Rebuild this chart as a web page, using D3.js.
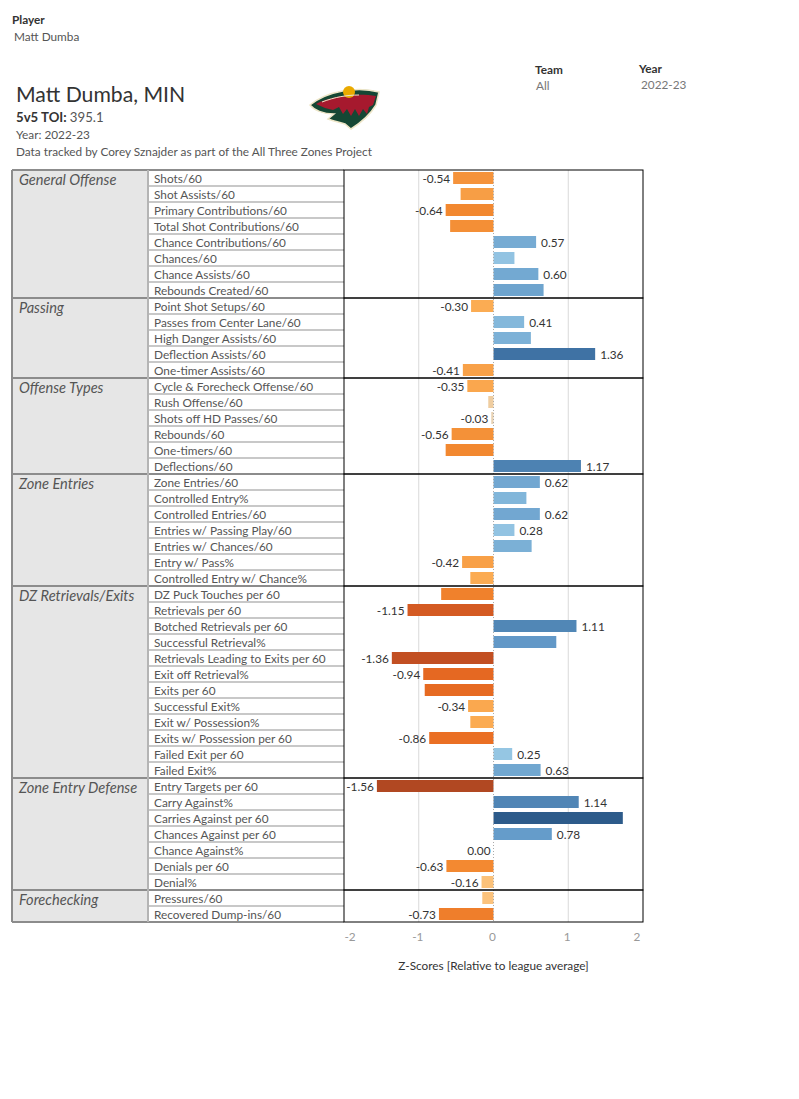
<!DOCTYPE html>
<html>
<head>
<meta charset="utf-8">
<script src="https://cdn.jsdelivr.net/npm/d3@7"></script>
<style>
  body { margin: 0; background: #fff; }
  text { font-family: Lato, "Open Sans", sans-serif; }
</style>
</head>
<body>
<div id="chart"></div>
<script>
// sections and their metrics
var groups = ["General Offense", "Passing", "Offense Types", "Zone Entries", "DZ Retrievals/Exits", "Zone Entry Defense", "Forechecking"]
var groupMetrics = [
  ["Shots/60", "Shot Assists/60", "Primary Contributions/60", "Total Shot Contributions/60", "Chance Contributions/60", "Chances/60", "Chance Assists/60", "Rebounds Created/60"],
  ["Point Shot Setups/60", "Passes from Center Lane/60", "High Danger Assists/60", "Deflection Assists/60", "One-timer Assists/60"],
  ["Cycle & Forecheck Offense/60", "Rush Offense/60", "Shots off HD Passes/60", "Rebounds/60", "One-timers/60", "Deflections/60"],
  ["Zone Entries/60", "Controlled Entry%", "Controlled Entries/60", "Entries w/ Passing Play/60", "Entries w/ Chances/60", "Entry w/ Pass%", "Controlled Entry w/ Chance%"],
  ["DZ Puck Touches per 60", "Retrievals per 60", "Botched Retrievals per 60", "Successful Retrieval%", "Retrievals Leading to Exits per 60", "Exit off Retrieval%", "Exits per 60", "Successful Exit%", "Exit w/ Possession%", "Exits w/ Possession per 60", "Failed Exit per 60", "Failed Exit%"],
  ["Entry Targets per 60", "Carry Against%", "Carries Against per 60", "Chances Against per 60", "Chance Against%", "Denials per 60", "Denial%"],
  ["Pressures/60", "Recovered Dump-ins/60"]
]
// z-scores, same order as metrics
var zScores = [
  [-0.54, -0.44, -0.64, -0.58, 0.57, 0.28, 0.60, 0.67],
  [-0.30, 0.41, 0.50, 1.36, -0.41],
  [-0.35, -0.07, -0.03, -0.56, -0.64, 1.17],
  [0.62, 0.44, 0.62, 0.28, 0.51, -0.42, -0.31],
  [-0.70, -1.15, 1.11, 0.84, -1.36, -0.94, -0.92, -0.34, -0.31, -0.86, 0.25, 0.63],
  [-1.56, 1.14, 1.73, 0.78, 0.00, -0.63, -0.16],
  [-0.15, -0.73]
]
// which bars carry a value label (1 = shown)
var showLabel = [
  [1, 0, 1, 0, 1, 0, 1, 0],
  [1, 1, 0, 1, 1],
  [1, 0, 1, 1, 0, 1],
  [1, 0, 1, 1, 0, 1, 0],
  [0, 1, 1, 0, 1, 1, 0, 1, 0, 1, 1, 1],
  [1, 1, 0, 1, 1, 1, 1],
  [0, 1]
]
var xTicks = [-2, -1, 0, 1, 2]

// flatten into rows
var rows = []
groups.forEach(function(g, gi) {
  groupMetrics[gi].forEach(function(m, mi) {
    rows.push({ group: g, metric: m, value: zScores[gi][mi], label: showLabel[gi][mi] })
  })
})

var W = 799, H = 1099
var tableTop = 170, rowH = 16
var colGroupX = 12, colMetricX = 148, panelX = 344, panelR = 643
var small = "11.8px"

var svg = d3.select("#chart").append("svg")
  .attr("width", W).attr("height", H)

// ---------- header ----------
svg.append("text").attr("x", 12).attr("y", 24).text("Player")
  .style("font-size", small).style("font-weight", "bold").style("fill", "#333")
svg.append("text").attr("x", 14).attr("y", 41).text("Matt Dumba")
  .style("font-size", small).style("fill", "#555")

svg.append("text").attr("x", 535).attr("y", 74).text("Team")
  .style("font-size", small).style("font-weight", "bold").style("fill", "#333")
svg.append("text").attr("x", 536).attr("y", 90).text("All")
  .style("font-size", small).style("fill", "#777")
svg.append("text").attr("x", 639).attr("y", 73).text("Year")
  .style("font-size", small).style("font-weight", "bold").style("fill", "#333")
svg.append("text").attr("x", 641).attr("y", 89).text("2022-23")
  .style("font-size", small).style("fill", "#777")

svg.append("text").attr("x", 16).attr("y", 102).text("Matt Dumba, MIN")
  .style("font-size", "21.2px").style("fill", "#333")
var toi = svg.append("text").attr("x", 16).attr("y", 122)
  .style("font-size", "13.2px").style("fill", "#333")
toi.append("tspan").text("5v5 TOI: ").style("font-weight", "bold")
toi.append("tspan").text("395.1").style("fill", "#555")
svg.append("text").attr("x", 16).attr("y", 139).text("Year: 2022-23")
  .style("font-size", small).style("fill", "#555")
svg.append("text").attr("x", 16).attr("y", 156).text("Data tracked by Corey Sznajder as part of the All Three Zones Project")
  .style("font-size", small).style("fill", "#555")

// ---------- logo (rough Wild crest) ----------
var logo = svg.append("g").attr("transform", "translate(309,83)")
logo.append("path")
  .attr("d", "M1,22 C18,8 48,3 70,9 L67,22 C61,32 53,39 42,46 L36,41 C30,39 24,38 19,36 L25,31 C14,31 5,27 1,22 Z")
  .style("fill", "#154734").style("stroke", "#eee6c8").style("stroke-width", 1.5)
logo.append("path")
  .attr("d", "M7,21 C22,13 48,10 67,13 L64,22 L60,24 L58,31 L54,26 L50,33 L46,26 L42,33 L38,26 L34,31 L30,24 L24,27 L16,25 Z")
  .style("fill", "#a6192e")
logo.append("circle").attr("cx", 40).attr("cy", 9).attr("r", 6).style("fill", "#eaaa00")
logo.append("path").attr("d", "M13,19 C26,14 38,12 50,12").style("fill", "none")
  .style("stroke", "#eee6c8").style("stroke-width", 1)

// ---------- scales ----------
var x = d3.scaleLinear().domain([-2, 2]).range([panelX, panelR])
var yTop = function(i) { return tableTop + i * rowH }

var color = d3.scaleLinear()
  .domain([-1.6, -1.36, -1.15, -0.9, -0.65, -0.45, -0.3, -0.15, -0.03, 0, 0.25, 0.45, 0.65, 0.8, 1.15, 1.36, 1.75])
  .range(["#ad4722", "#c24f22", "#d45a22", "#e86b22", "#f2872f", "#f79d44", "#fbac53", "#fbc27c", "#e9d2b2",
          "#d8d8d8", "#95c6e3", "#80b5d9", "#6fa5cf", "#649bc9", "#4f84b4", "#3f72a4", "#2c5a89"])
  .clamp(true)

// ---------- table ----------
var sections = []
var start = 0
groups.forEach(function(g, gi) {
  sections.push({ name: g, start: start, n: groupMetrics[gi].length })
  start += groupMetrics[gi].length
})
var tableBottom = yTop(rows.length)

// group column background
svg.append("rect").attr("x", colGroupX).attr("y", tableTop)
  .attr("width", colMetricX - colGroupX).attr("height", tableBottom - tableTop)
  .style("fill", "#e6e6e6")

// metric row separators
svg.selectAll(".rowline")
  .data(rows)
  .enter().append("line")
  .attr("x1", colMetricX).attr("x2", panelX)
  .attr("y1", function(d, i) { return yTop(i + 1) })
  .attr("y2", function(d, i) { return yTop(i + 1) })
  .style("stroke", "#c8c8c8").style("stroke-width", 2)

// metric labels
svg.selectAll(".metric")
  .data(rows)
  .enter().append("text")
  .attr("x", colMetricX + 6)
  .attr("y", function(d, i) { return yTop(i) + 12.5 })
  .text(function(d) { return d.metric })
  .style("font-size", small).style("fill", "#555")

// section separators and group names
svg.selectAll(".secline")
  .data(sections)
  .enter().append("line")
  .attr("x1", colGroupX).attr("x2", panelX)
  .attr("y1", function(d) { return yTop(d.start) })
  .attr("y2", function(d) { return yTop(d.start) })
  .style("stroke", "#8c8c8c").style("stroke-width", 2)
svg.append("line")
  .attr("x1", colGroupX).attr("x2", panelX)
  .attr("y1", tableBottom).attr("y2", tableBottom)
  .style("stroke", "#8c8c8c").style("stroke-width", 2)

svg.selectAll(".groupname")
  .data(sections)
  .enter().append("text")
  .attr("x", colGroupX + 7)
  .attr("y", function(d) { return yTop(d.start) + 14.5 })
  .text(function(d) { return d.name })
  .style("font-size", "14.6px").style("font-style", "italic").style("fill", "#555")

// vertical borders
svg.append("line").attr("x1", colGroupX).attr("x2", colGroupX)
  .attr("y1", tableTop).attr("y2", tableBottom)
  .style("stroke", "#8c8c8c").style("stroke-width", 2)
svg.append("line").attr("x1", colMetricX).attr("x2", colMetricX)
  .attr("y1", tableTop).attr("y2", tableBottom)
  .style("stroke", "#b4b4b4").style("stroke-width", 2)

// ---------- chart panel ----------
var panel = svg.append("g")
svg.append("defs").append("clipPath").attr("id", "clip")
  .append("rect").attr("x", panelX).attr("y", tableTop).attr("width", panelR - panelX).attr("height", tableBottom - tableTop)

// grid lines
panel.selectAll(".grid")
  .data([-1, 1])
  .enter().append("line")
  .attr("x1", function(d) { return x(d) }).attr("x2", function(d) { return x(d) })
  .attr("y1", tableTop).attr("y2", tableBottom)
  .style("stroke", "#d9d9d9").style("stroke-width", 1)

// bars
panel.selectAll(".bar")
  .data(rows)
  .enter().append("rect")
  .attr("x", function(d) { return x(Math.min(0, d.value)) })
  .attr("y", function(d, i) { return yTop(i) + 2 })
  .attr("width", function(d) { return Math.abs(x(d.value) - x(0)) })
  .attr("height", rowH - 4)
  .style("fill", function(d) { return color(d.value) })

// zero line
panel.append("line")
  .attr("x1", x(0)).attr("x2", x(0))
  .attr("y1", tableTop).attr("y2", tableBottom)
  .style("stroke", "#aaa").style("stroke-width", 1).style("stroke-dasharray", "1,2")

// value labels
panel.append("g").attr("clip-path", "url(#clip)")
  .selectAll(".val")
  .data(rows.map(function(d, i) { return Object.assign({ i: i }, d) }).filter(function(d) { return d.label }))
  .enter().append("text")
  .attr("x", function(d) { return d.value > 0 ? x(d.value) + 5 : x(d.value) - 3 })
  .attr("y", function(d) { return yTop(d.i) + 12.5 })
  .attr("text-anchor", function(d) { return d.value > 0 ? "start" : "end" })
  .text(function(d) { return d.value.toFixed(2) })
  .style("font-size", small).style("fill", "#333")

// section frames
panel.selectAll(".frame")
  .data(sections)
  .enter().append("rect")
  .attr("x", panelX).attr("y", function(d) { return yTop(d.start) })
  .attr("width", panelR - panelX).attr("height", function(d) { return d.n * rowH })
  .style("fill", "none").style("stroke", "#000").style("stroke-width", 1)

// ---------- axis ----------
var axis = svg.append("g").attr("transform", "translate(0," + (tableBottom + 19) + ")")
axis.selectAll("text")
  .data(xTicks)
  .enter().append("text")
  .attr("x", function(d) { return d === -2 ? x(d) + 6 : d === 2 ? x(d) - 6 : x(d) - 1 })
  .attr("text-anchor", "middle")
  .text(function(d) { return d })
  .style("font-size", small).style("fill", "#999")

svg.append("text").attr("x", x(0)).attr("y", tableBottom + 48)
  .attr("text-anchor", "middle")
  .text("Z-Scores [Relative to league average]")
  .style("font-size", small).style("fill", "#333")
</script>
</body>
</html>
